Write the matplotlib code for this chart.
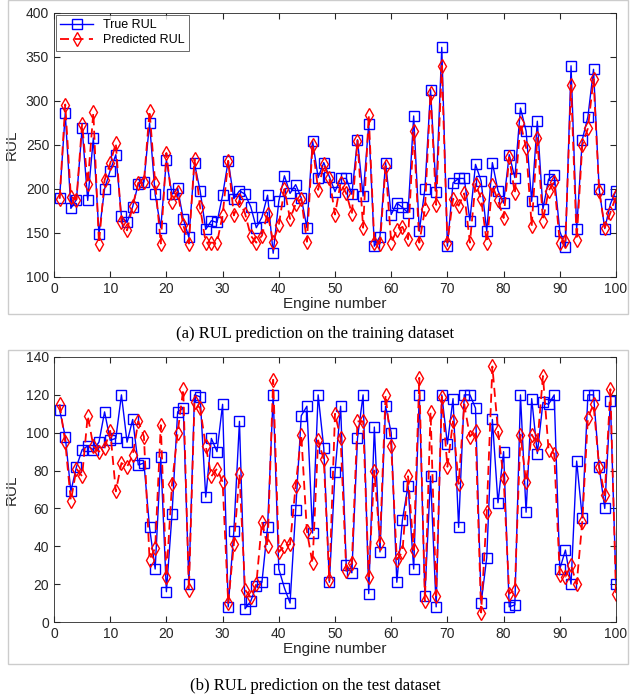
import matplotlib
matplotlib.use('Agg')
import matplotlib.pyplot as plt
from matplotlib.patches import Rectangle

# engine numbers and RUL values
engines = list(range(1, 101))

train_true = [190, 286, 178, 188, 269, 187, 258, 149, 200, 221,
              239, 169, 162, 180, 206, 208, 275, 194, 156, 233,
              194, 201, 166, 145, 229, 198, 154, 164, 162, 193,
              232, 189, 198, 194, 180, 156, 168, 193, 127, 186,
              215, 195, 205, 190, 156, 255, 213, 230, 214, 197,
              212, 212, 194, 256, 192, 274, 135, 146, 230, 171,
              184, 179, 173, 283, 152, 200, 313, 197, 361, 135,
              207, 212, 212, 164, 228, 209, 152, 230, 198, 184,
              239, 213, 292, 266, 186, 277, 177, 211, 216, 152,
              134, 340, 154, 256, 282, 336, 200, 155, 183, 198]

train_pred = [189, 296, 191, 188, 274, 206, 287, 138, 210, 229,
              252, 162, 153, 181, 207, 208, 289, 207, 138, 241,
              185, 197, 159, 138, 234, 179, 139, 139, 139, 170,
              232, 170, 187, 172, 147, 139, 147, 172, 140, 159,
              200, 166, 183, 189, 140, 250, 199, 228, 212, 171,
              207, 195, 172, 255, 156, 284, 139, 138, 226, 139,
              153, 157, 143, 266, 139, 177, 309, 182, 340, 139,
              189, 181, 195, 139, 206, 189, 139, 204, 187, 167,
              236, 195, 275, 247, 158, 258, 164, 198, 208, 139,
              141, 318, 142, 250, 269, 325, 198, 156, 173, 192]

test_true = [112, 98, 69, 82, 91, 93, 91, 95, 111, 96,
             97, 120, 95, 107, 83, 84, 50, 28, 87, 16,
             57, 111, 113, 20, 120, 119, 66, 97, 90, 115,
             8, 48, 106, 7, 11, 19, 21, 50, 120, 28,
             18, 10, 59, 109, 114, 47, 120, 92, 21, 79,
             114, 30, 26, 97, 120, 15, 103, 37, 114, 100,
             21, 54, 72, 28, 120, 14, 77, 8, 120, 94,
             118, 50, 120, 120, 113, 10, 34, 107, 63, 90,
             8, 9, 120, 58, 118, 89, 116, 115, 120, 28,
             38, 20, 85, 55, 120, 120, 82, 60, 117, 20]

test_pred = [115, 95, 64, 81, 77, 109, 93, 90, 92, 101,
             69, 84, 82, 88, 106, 98, 33, 39, 104, 24,
             73, 100, 123, 17, 116, 113, 93, 77, 81, 74,
             10, 41, 78, 17, 13, 20, 53, 40, 128, 37,
             40, 41, 72, 99, 48, 31, 96, 86, 22, 110,
             97, 27, 31, 106, 106, 24, 80, 42, 120, 93,
             33, 37, 77, 38, 129, 11, 111, 14, 119, 82,
             106, 73, 115, 98, 101, 5, 58, 135, 101, 76,
             15, 17, 99, 74, 99, 94, 130, 91, 89, 25,
             24, 30, 20, 53, 108, 115, 82, 67, 123, 15]

plt.rcParams['font.family'] = ['Liberation Sans', 'DejaVu Sans']

fig = plt.figure(figsize=(6.3, 7.0), dpi=100)

# grey frames around each sub-figure
for y0, y1 in [(0, 314), (350, 664)]:
    fig.add_artist(Rectangle((8 / 630, 1 - y1 / 700), 620 / 630, (y1 - y0) / 700,
                             transform=fig.transFigure, fill=False,
                             edgecolor='#cccccc', linewidth=1))


def draw(ax, true, pred, ylim, yticks, legend=False):
    ax.plot(engines, true, '-s', color='#0000ff', lw=1.0, ms=6.5,
            mfc='none', mew=1.0, label='True RUL')
    ax.plot(engines, pred, '--d', color='#ff0000', lw=1.3, ms=7.5,
            mfc='none', mew=1.0, dashes=(5, 3), label='Predicted RUL')
    ax.set_xlim(0, 100)
    ax.set_ylim(*ylim)
    ax.set_xticks(range(0, 101, 10))
    ax.set_yticks(yticks)
    ax.tick_params(direction='in', top=True, right=True, labelsize=10,
                   length=4, color='#262626', labelcolor='#262626')
    for s in ax.spines.values():
        s.set_color('#262626')
        s.set_linewidth(0.6)
    ax.set_xlabel('Engine number', fontsize=11, color='#262626', labelpad=1)
    ax.set_ylabel('RUL', fontsize=11, color='#262626', labelpad=5)
    if legend:
        leg = ax.legend(loc='upper left', fontsize=9, fancybox=False,
                        edgecolor='#262626', borderaxespad=0.15,
                        handlelength=2.6, borderpad=0.35, labelspacing=0.25)
        leg.get_frame().set_linewidth(0.6)


ax1 = fig.add_axes([54 / 630, 1 - 277 / 700, 562 / 630, 264 / 700])
draw(ax1, train_true, train_pred, (100, 400), range(100, 401, 50), legend=True)

ax2 = fig.add_axes([54 / 630, 1 - 622 / 700, 562 / 630, 265 / 700])
draw(ax2, test_true, test_pred, (0, 140), range(0, 141, 20))

fig.text(0.5, 1 - 334 / 700, '(a) RUL prediction on the training dataset',
         ha='center', va='center', fontsize=12, family='Liberation Serif')
fig.text(0.5, 1 - 686 / 700, '(b) RUL prediction on the test dataset',
         ha='center', va='center', fontsize=12, family='Liberation Serif')

fig.savefig('out.png', dpi=100)
